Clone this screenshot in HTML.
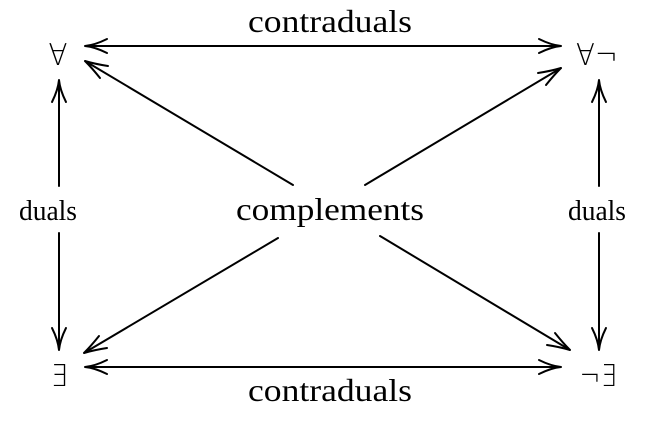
<!DOCTYPE html>
<html><head><meta charset="utf-8"><style>
html,body{margin:0;padding:0;background:#fff;}
svg{display:block;}
text{font-family:"Liberation Serif","DejaVu Serif",serif;font-size:32px;fill:#000;}
.s{font-family:"DejaVu Sans ExtraLight","DejaVu Sans",sans-serif;font-size:30px;font-weight:200;}
.d{font-size:28px;}
</style></head><body>
<svg width="657" height="423" viewBox="0 0 657 423" xmlns="http://www.w3.org/2000/svg">
<g stroke="#000" stroke-width="2" fill="none" stroke-linecap="round">
<line x1="85" y1="46" x2="561" y2="46"/>
<path d="M107 39 Q95 45 85 46 Q95 47 107 53"/>
<path d="M539 39 Q551 45 561 46 Q551 47 539 53"/>
<line x1="85" y1="367" x2="561" y2="367"/>
<path d="M107 360 Q95 366 85 367 Q95 368 107 374"/>
<path d="M539 360 Q551 366 561 367 Q551 368 539 374"/>
<line x1="59" y1="80" x2="59" y2="186"/>
<path d="M52 102 Q58 90 59 80 Q60 90 66 102"/>
<line x1="59" y1="233" x2="59" y2="350"/>
<path d="M52 328 Q58 340 59 350 Q60 340 66 328"/>
<line x1="599" y1="80" x2="599" y2="186"/>
<path d="M592 102 Q598 90 599 80 Q600 90 606 102"/>
<line x1="599" y1="233" x2="599" y2="350"/>
<path d="M592 328 Q598 340 599 350 Q600 340 606 328"/>
<line x1="293" y1="185" x2="85" y2="61"/>
<path d="M108 66 Q95 64 85 61 Q92 68 100 78"/>
<line x1="365" y1="185" x2="561" y2="68"/>
<path d="M538 73 Q551 71 561 68 Q554 75 546 85"/>
<line x1="278" y1="238" x2="84" y2="353"/>
<path d="M107 348 Q94 350 84 353 Q91 346 99 336"/>
<line x1="380" y1="236" x2="570" y2="350"/>
<path d="M547 345 Q560 347 570 350 Q563 343 555 333"/>
</g>
<text x="330" y="32" text-anchor="middle" textLength="164" lengthAdjust="spacingAndGlyphs">contraduals</text>
<text x="330" y="401" text-anchor="middle" textLength="164" lengthAdjust="spacingAndGlyphs">contraduals</text>
<text class="d" x="48" y="220" text-anchor="middle" textLength="58" lengthAdjust="spacingAndGlyphs">duals</text>
<text class="d" x="597" y="220" text-anchor="middle" textLength="58" lengthAdjust="spacingAndGlyphs">duals</text>
<text x="330" y="220" text-anchor="middle" textLength="188" lengthAdjust="spacingAndGlyphs">complements</text>
<text class="s" x="58" y="65" text-anchor="middle" textLength="19" lengthAdjust="spacingAndGlyphs">∀</text>
<text class="s" x="597" y="65" text-anchor="middle" textLength="42" lengthAdjust="spacingAndGlyphs">∀¬</text>
<text class="s" x="59" y="386" text-anchor="middle" textLength="17" lengthAdjust="spacingAndGlyphs">∃</text>
<text class="s" x="598" y="386" text-anchor="middle" textLength="37" lengthAdjust="spacingAndGlyphs">¬∃</text>
</svg>
</body></html>
